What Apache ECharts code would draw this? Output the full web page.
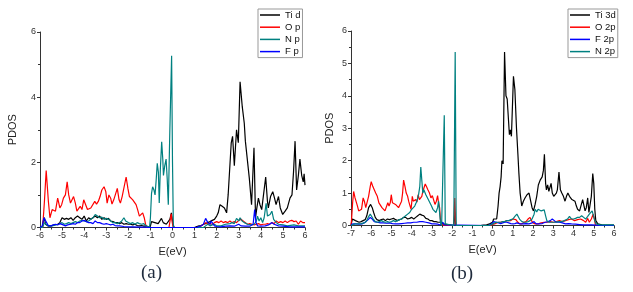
<!DOCTYPE html>
<html>
<head>
<meta charset="utf-8">
<script src="https://cdn.jsdelivr.net/npm/echarts@6/dist/echarts.min.js"></script>
<style>
  html, body { margin: 0; padding: 0; background: #fff; }
  #chart { width: 633px; height: 292px; }
</style>
</head>
<body>
<div id="chart"></div>
<script>
// panel (a): PDOS vs E(eV), [E, PDOS]
const tiD = [[-6,0],[-5.9,0],[-5.85,0.2],[-5.8,0.3],[-5.75,0.1],[-5.65,0.05],[-5.5,0.05],[-5.35,0.08],[-5.2,0.1],[-5.1,0.15],[-5.0,0.3],[-4.9,0.25],[-4.8,0.28],[-4.7,0.25],[-4.6,0.3],[-4.5,0.22],[-4.4,0.3],[-4.3,0.35],[-4.2,0.3],[-4.1,0.25],[-4.0,0.35],[-3.9,0.2],[-3.8,0.3],[-3.7,0.25],[-3.6,0.3],[-3.5,0.35],[-3.4,0.3],[-3.3,0.35],[-3.2,0.25],[-3.1,0.3],[-3.0,0.25],[-2.9,0.28],[-2.8,0.2],[-2.7,0.18],[-2.6,0.15],[-2.5,0.15],[-2.4,0.12],[-2.3,0.15],[-2.2,0.1],[-2.1,0.12],[-2.0,0.1],[-1.9,0.1],[-1.8,0.08],[-1.7,0.1],[-1.6,0.06],[-1.5,0.05],[-1.4,0.06],[-1.3,0.04],[-1.2,0.05],[-1.12,0],[-1.02,0],[-0.95,0.18],[-0.88,0.2],[-0.8,0.15],[-0.72,0.2],[-0.65,0.12],[-0.58,0.18],[-0.5,0.28],[-0.42,0.15],[-0.35,0.2],[-0.28,0.1],[-0.2,0.1],[-0.12,0.25],[-0.05,0.45],[0.02,0.1],[0.08,0],[1.0,0],[1.1,0.03],[1.2,0.05],[1.3,0.06],[1.4,0.1],[1.5,0.12],[1.6,0.15],[1.7,0.18],[1.8,0.22],[1.9,0.25],[2.0,0.35],[2.07,0.45],[2.15,0.7],[2.25,0.65],[2.35,0.6],[2.45,0.45],[2.52,1.0],[2.58,0.95],[2.66,2.6],[2.72,2.8],[2.8,1.9],[2.9,3.0],[2.98,2.6],[3.06,4.47],[3.16,3.7],[3.25,3.2],[3.3,2.65],[3.38,2.6],[3.48,1.5],[3.58,0.7],[3.69,2.45],[3.76,0.3],[3.82,0.6],[3.89,0.9],[3.96,0.7],[4.04,0.55],[4.12,0.6],[4.22,1.55],[4.3,0.8],[4.34,0.6],[4.44,0.95],[4.54,1.1],[4.62,0.9],[4.69,0.7],[4.8,0.95],[4.88,0.6],[4.99,0.4],[5.1,0.5],[5.2,0.6],[5.32,0.9],[5.41,1.0],[5.48,1.7],[5.55,2.65],[5.62,1.15],[5.7,1.6],[5.77,2.1],[5.85,1.6],[5.92,1.4],[5.96,1.65],[6,1.3]];
const oP = [[-6,0],[-5.88,0],[-5.8,0.8],[-5.72,1.75],[-5.62,0.8],[-5.55,0.3],[-5.45,0.55],[-5.38,0.6],[-5.3,0.5],[-5.2,0.9],[-5.1,0.6],[-5.02,0.7],[-4.94,0.9],[-4.85,1.0],[-4.77,1.4],[-4.7,1.0],[-4.62,0.75],[-4.55,0.8],[-4.48,0.95],[-4.4,0.75],[-4.33,0.5],[-4.25,0.55],[-4.18,0.65],[-4.1,0.55],[-4.02,0.85],[-3.95,0.8],[-3.85,0.55],[-3.77,0.5],[-3.7,0.6],[-3.62,0.65],[-3.52,0.8],[-3.44,0.72],[-3.36,0.8],[-3.28,0.95],[-3.2,1.15],[-3.1,1.25],[-3.02,1.1],[-2.96,0.75],[-2.88,1.0],[-2.8,0.9],[-2.74,0.72],[-2.66,0.85],[-2.58,0.9],[-2.5,1.2],[-2.42,0.85],[-2.36,0.75],[-2.28,0.95],[-2.2,1.0],[-2.1,1.55],[-2.02,1.2],[-1.95,0.95],[-1.88,1.0],[-1.8,0.85],[-1.72,0.9],[-1.65,0.7],[-1.58,0.55],[-1.5,0.35],[-1.42,0.3],[-1.35,0.45],[-1.28,0.3],[-1.22,0.1],[-1.16,0],[-0.16,0],[-0.1,0.25],[-0.06,0.42],[-0.01,0.15],[0.03,0],[1.2,0],[1.3,0.05],[1.4,0.1],[1.5,0.15],[1.6,0.1],[1.7,0.12],[1.8,0.1],[1.9,0.15],[2.0,0.18],[2.1,0.15],[2.2,0.2],[2.3,0.15],[2.4,0.18],[2.5,0.15],[2.6,0.2],[2.7,0.15],[2.8,0.18],[2.9,0.15],[3.0,0.22],[3.1,0.25],[3.2,0.2],[3.3,0.15],[3.4,0.1],[3.5,0.12],[3.6,0.1],[3.7,0.08],[3.8,0.1],[3.9,0.12],[4.0,0.08],[4.1,0.1],[4.2,0.1],[4.3,0.12],[4.4,0.1],[4.5,0.15],[4.6,0.12],[4.7,0.2],[4.8,0.15],[4.9,0.18],[5.0,0.15],[5.1,0.2],[5.2,0.15],[5.3,0.2],[5.4,0.22],[5.5,0.18],[5.6,0.2],[5.7,0.1],[5.8,0.2],[5.9,0.15],[6,0.15]];
const nP = [[-6,0],[-5.88,0],[-5.8,0.15],[-5.7,0.08],[-5.6,0.05],[-5.45,0.05],[-5.3,0.08],[-5.15,0.1],[-5.0,0.15],[-4.9,0.1],[-4.8,0.12],[-4.7,0.15],[-4.6,0.12],[-4.5,0.15],[-4.4,0.18],[-4.3,0.15],[-4.2,0.2],[-4.1,0.22],[-4.0,0.2],[-3.9,0.18],[-3.8,0.2],[-3.7,0.25],[-3.6,0.3],[-3.5,0.4],[-3.4,0.35],[-3.3,0.3],[-3.2,0.32],[-3.1,0.25],[-3.0,0.28],[-2.9,0.25],[-2.8,0.2],[-2.7,0.15],[-2.6,0.15],[-2.5,0.12],[-2.4,0.15],[-2.3,0.2],[-2.2,0.3],[-2.12,0.2],[-2.0,0.15],[-1.9,0.12],[-1.8,0.15],[-1.7,0.1],[-1.6,0.15],[-1.5,0.12],[-1.4,0.1],[-1.3,0.12],[-1.2,0.05],[-1.12,0],[-1.04,0],[-1.0,0.3],[-0.95,1.05],[-0.9,1.25],[-0.84,1.15],[-0.79,1.0],[-0.74,1.45],[-0.69,1.97],[-0.64,1.7],[-0.6,0.75],[-0.55,1.8],[-0.49,2.63],[-0.44,2.1],[-0.41,1.6],[-0.35,1.9],[-0.29,2.1],[-0.24,1.5],[-0.19,0.7],[-0.12,3.0],[-0.04,5.27],[0.0,2.0],[0.04,0],[1.4,0],[1.5,0.05],[1.6,0.1],[1.7,0.05],[1.8,0.08],[1.9,0.1],[2.0,0.05],[2.2,0.05],[2.4,0.1],[2.6,0.12],[2.7,0.15],[2.8,0.12],[2.9,0.28],[3.0,0.2],[3.06,0.3],[3.15,0.2],[3.25,0.15],[3.4,0.1],[3.6,0.08],[3.7,0.1],[3.8,0.2],[3.85,0.35],[3.92,0.2],[4.0,0.3],[4.08,0.15],[4.15,0.3],[4.24,0.74],[4.3,0.35],[4.36,0.3],[4.42,0.4],[4.5,0.5],[4.58,0.25],[4.7,0.15],[4.8,0.1],[5.0,0.08],[5.2,0.05],[5.5,0.08],[5.7,0.05],[6,0.05]];
const fP = [[-6,0],[-5.9,0.05],[-5.82,0.3],[-5.77,0.35],[-5.7,0.15],[-5.62,0.05],[-5.5,0.05],[-5.4,0.08],[-5.3,0.1],[-5.2,0.08],[-5.1,0.12],[-5.02,0.15],[-4.95,0.08],[-4.85,0.05],[-4.75,0.08],[-4.6,0.1],[-4.5,0.12],[-4.4,0.1],[-4.3,0.15],[-4.2,0.15],[-4.1,0.2],[-4.0,0.22],[-3.9,0.18],[-3.8,0.15],[-3.7,0.15],[-3.6,0.12],[-3.5,0.2],[-3.4,0.15],[-3.3,0.15],[-3.2,0.12],[-3.1,0.1],[-3.0,0.12],[-2.9,0.1],[-2.8,0.08],[-2.7,0.1],[-2.6,0.06],[-2.5,0.05],[-2.4,0.05],[-2.2,0.03],[-2.0,0.02],[-1.8,0.02],[-1.5,0.01],[-1.2,0.01],[-1.1,0],[1.1,0],[1.2,0.03],[1.3,0.05],[1.4,0.1],[1.5,0.28],[1.55,0.3],[1.6,0.15],[1.7,0.1],[1.75,0.2],[1.82,0.15],[1.9,0.05],[2.0,0.03],[2.2,0.02],[2.4,0.04],[2.6,0.05],[2.8,0.04],[3.0,0.1],[3.1,0.05],[3.3,0.04],[3.5,0.04],[3.65,0.1],[3.72,0.55],[3.78,0.15],[3.85,0.05],[4.0,0.04],[4.2,0.05],[4.35,0.08],[4.5,0.15],[4.6,0.1],[4.8,0.05],[5.0,0.04],[5.3,0.02],[5.6,0.02],[6,0.02]];

// panel (b)
const ti3d = [[-7,0],[-6.97,0.1],[-6.93,0.2],[-6.87,0.15],[-6.78,0.15],[-6.7,0.12],[-6.6,0.1],[-6.5,0.12],[-6.4,0.15],[-6.3,0.18],[-6.22,0.3],[-6.13,0.55],[-6.03,0.65],[-5.95,0.55],[-5.88,0.4],[-5.8,0.25],[-5.72,0.18],[-5.6,0.15],[-5.5,0.18],[-5.4,0.2],[-5.3,0.15],[-5.2,0.2],[-5.1,0.18],[-5.0,0.2],[-4.9,0.22],[-4.8,0.18],[-4.7,0.15],[-4.6,0.18],[-4.5,0.2],[-4.4,0.25],[-4.3,0.25],[-4.2,0.2],[-4.1,0.22],[-4.0,0.25],[-3.9,0.2],[-3.8,0.25],[-3.7,0.3],[-3.6,0.35],[-3.5,0.32],[-3.4,0.3],[-3.3,0.22],[-3.2,0.2],[-3.1,0.15],[-3.0,0.15],[-2.9,0.12],[-2.8,0.12],[-2.7,0.1],[-2.6,0.1],[-2.52,0.05],[-2.45,0.05],[-2.38,0],[-1.92,0],[-1.87,0.4],[-1.82,0],[-0.6,0],[-0.45,0.01],[-0.3,0.02],[-0.15,0.05],[0.0,0.1],[0.05,0.2],[0.12,0.25],[0.2,0.2],[0.27,0.6],[0.32,1.0],[0.37,1.2],[0.42,1.5],[0.46,2.0],[0.52,1.9],[0.59,5.35],[0.66,4.0],[0.72,3.9],[0.77,3.85],[0.83,2.8],[0.88,2.95],[0.93,2.75],[1.03,4.6],[1.1,4.2],[1.18,3.0],[1.25,2.2],[1.3,1.6],[1.36,1.0],[1.44,0.6],[1.52,0.75],[1.6,0.85],[1.7,0.95],[1.8,1.0],[1.88,0.95],[1.95,0.55],[2.02,0.45],[2.1,0.65],[2.18,0.9],[2.26,1.25],[2.35,1.4],[2.45,1.5],[2.51,1.7],[2.56,2.2],[2.62,1.3],[2.66,1.1],[2.72,1.25],[2.78,1.05],[2.84,1.1],[2.89,1.3],[2.95,1.0],[3.02,0.9],[3.09,0.85],[3.15,1.0],[3.2,1.1],[3.28,1.65],[3.35,1.1],[3.42,1.0],[3.5,0.9],[3.58,0.75],[3.65,0.9],[3.72,1.0],[3.8,0.9],[3.86,0.95],[3.92,0.8],[4.0,0.8],[4.07,0.75],[4.14,0.6],[4.2,0.5],[4.3,0.45],[4.38,0.5],[4.45,0.8],[4.5,0.75],[4.57,0.45],[4.63,0.55],[4.7,0.85],[4.76,0.4],[4.82,0.65],[4.88,0.9],[4.95,1.6],[5.0,1.3],[5.05,0.5],[5.1,0.15],[5.2,0.05],[5.4,0.02],[5.7,0.01],[6,0.01]];
const o2p = [[-7,0],[-6.97,0.2],[-6.92,0.7],[-6.87,1.05],[-6.8,0.85],[-6.74,0.8],[-6.68,0.6],[-6.62,0.45],[-6.55,0.4],[-6.48,0.5],[-6.4,0.85],[-6.34,0.75],[-6.27,0.55],[-6.2,0.6],[-6.13,0.9],[-6.05,1.2],[-6.0,1.35],[-5.92,1.2],[-5.85,1.1],[-5.78,1.0],[-5.7,0.9],[-5.62,0.7],[-5.55,0.65],[-5.47,0.55],[-5.4,0.5],[-5.32,0.45],[-5.25,0.5],[-5.18,0.7],[-5.12,0.6],[-5.06,0.7],[-5.01,0.95],[-4.95,0.7],[-4.88,0.72],[-4.8,0.65],[-4.72,0.6],[-4.65,0.55],[-4.58,0.6],[-4.5,0.75],[-4.45,1.0],[-4.4,1.4],[-4.33,1.2],[-4.27,1.0],[-4.2,0.9],[-4.15,0.75],[-4.08,0.6],[-4.03,0.5],[-3.97,0.9],[-3.92,0.75],[-3.87,0.7],[-3.8,0.8],[-3.74,0.72],[-3.68,0.95],[-3.62,0.8],[-3.56,0.85],[-3.5,0.9],[-3.45,1.05],[-3.4,1.15],[-3.33,1.28],[-3.27,1.2],[-3.2,1.1],[-3.12,1.0],[-3.05,0.85],[-2.98,0.92],[-2.92,0.8],[-2.85,0.65],[-2.78,0.75],[-2.72,0.92],[-2.67,0.7],[-2.62,0.55],[-2.58,0.2],[-2.52,0.05],[-2.46,0.08],[-2.4,0],[-1.92,0],[-1.87,0.85],[-1.82,0],[-0.1,0],[0.0,0.03],[0.1,0.05],[0.2,0.08],[0.3,0.1],[0.4,0.1],[0.5,0.12],[0.6,0.12],[0.7,0.15],[0.8,0.15],[0.9,0.15],[1.0,0.2],[1.08,0.25],[1.15,0.18],[1.25,0.1],[1.35,0.05],[1.45,0.05],[1.55,0.1],[1.65,0.12],[1.75,0.2],[1.85,0.25],[1.92,0.15],[2.0,0.08],[2.1,0.05],[2.25,0.05],[2.4,0.08],[2.55,0.1],[2.7,0.1],[2.85,0.12],[3.0,0.1],[3.15,0.12],[3.3,0.15],[3.45,0.12],[3.6,0.15],[3.75,0.18],[3.9,0.2],[4.05,0.15],[4.2,0.18],[4.35,0.2],[4.5,0.15],[4.6,0.1],[4.7,0.22],[4.78,0.1],[4.88,0.2],[4.97,0.35],[5.03,0.2],[5.08,0.02],[5.2,0],[6,0]];
const f2p = [[-7,0.02],[-6.9,0.05],[-6.75,0.05],[-6.6,0.04],[-6.45,0.05],[-6.3,0.1],[-6.15,0.18],[-6.05,0.25],[-5.95,0.2],[-5.85,0.12],[-5.7,0.1],[-5.55,0.08],[-5.4,0.08],[-5.25,0.07],[-5.1,0.08],[-4.95,0.06],[-4.8,0.05],[-4.65,0.05],[-4.5,0.06],[-4.35,0.07],[-4.2,0.08],[-4.05,0.08],[-3.9,0.1],[-3.75,0.1],[-3.6,0.12],[-3.52,0.15],[-3.45,0.12],[-3.3,0.1],[-3.15,0.08],[-3.0,0.05],[-2.85,0.05],[-2.7,0.04],[-2.6,0.02],[-2.52,0.05],[-2.46,0.1],[-2.4,0.02],[-2.35,0],[-0.2,0],[-0.05,0.05],[0.05,0.12],[0.12,0.15],[0.2,0.1],[0.3,0.08],[0.4,0.06],[0.5,0.08],[0.6,0.1],[0.7,0.1],[0.8,0.08],[0.9,0.06],[1.0,0.05],[1.1,0.06],[1.2,0.08],[1.35,0.05],[1.5,0.05],[1.65,0.06],[1.8,0.05],[1.95,0.08],[2.05,0.12],[2.15,0.05],[2.3,0.05],[2.45,0.06],[2.6,0.1],[2.75,0.12],[2.85,0.15],[2.95,0.2],[3.05,0.15],[3.15,0.1],[3.3,0.1],[3.45,0.08],[3.6,0.05],[3.75,0.06],[3.9,0.05],[4.1,0.04],[4.3,0.03],[4.5,0.02],[4.7,0.02],[4.9,0.02],[5.1,0.01],[5.3,0],[6,0]];
const n2p = [[-7,0],[-6.95,0.05],[-6.8,0.05],[-6.65,0.05],[-6.5,0.06],[-6.35,0.08],[-6.25,0.12],[-6.15,0.25],[-6.05,0.35],[-5.98,0.3],[-5.9,0.2],[-5.8,0.12],[-5.7,0.1],[-5.6,0.12],[-5.5,0.15],[-5.4,0.12],[-5.3,0.1],[-5.2,0.12],[-5.1,0.1],[-5.0,0.12],[-4.9,0.15],[-4.8,0.12],[-4.7,0.15],[-4.6,0.18],[-4.5,0.2],[-4.4,0.25],[-4.3,0.3],[-4.2,0.35],[-4.1,0.4],[-4.0,0.5],[-3.92,0.55],[-3.85,0.6],[-3.78,0.7],[-3.72,0.8],[-3.66,0.95],[-3.6,1.2],[-3.55,1.8],[-3.5,1.4],[-3.45,1.0],[-3.4,1.1],[-3.35,1.15],[-3.3,0.95],[-3.25,0.9],[-3.18,0.8],[-3.1,0.75],[-3.02,0.6],[-2.95,0.5],[-2.88,0.45],[-2.8,0.4],[-2.72,0.55],[-2.67,0.75],[-2.62,0.7],[-2.58,0.1],[-2.52,0],[-2.45,0.05],[-2.39,3.4],[-2.34,0.05],[-2.3,0],[-1.92,0],[-1.85,5.35],[-1.8,0],[-0.2,0],[-0.1,0.02],[0.0,0.05],[0.1,0.08],[0.2,0.1],[0.3,0.1],[0.4,0.1],[0.5,0.12],[0.6,0.12],[0.7,0.15],[0.8,0.15],[0.9,0.18],[1.0,0.2],[1.1,0.28],[1.2,0.35],[1.28,0.3],[1.35,0.18],[1.45,0.12],[1.55,0.1],[1.65,0.1],[1.75,0.12],[1.85,0.15],[1.95,0.2],[2.05,0.35],[2.1,0.5],[2.18,0.42],[2.25,0.5],[2.32,0.52],[2.4,0.45],[2.48,0.4],[2.55,0.48],[2.62,0.3],[2.68,0.15],[2.8,0.1],[2.95,0.1],[3.1,0.1],[3.25,0.12],[3.4,0.12],[3.55,0.15],[3.7,0.2],[3.8,0.28],[3.9,0.2],[4.0,0.2],[4.1,0.22],[4.2,0.25],[4.3,0.25],[4.4,0.3],[4.5,0.25],[4.6,0.2],[4.7,0.28],[4.78,0.35],[4.85,0.3],[4.92,0.45],[4.98,0.4],[5.05,0.15],[5.12,0.05],[5.3,0.02],[6,0.02]];

const FONT = "Liberation Sans, Arial, sans-serif";
const AXIS_COLOR = "#333";

const chart = echarts.init(document.getElementById("chart"), null, { renderer: "canvas" });

function xAxisCfg(gridIndex, min) {
  return {
    type: "value", gridIndex, min, max: 6, interval: 1,
    name: "E(eV)", nameLocation: "middle", nameGap: 19,
    nameTextStyle: { fontSize: 11, color: "#222", fontFamily: FONT },
    axisLine: { onZero: false, lineStyle: { color: AXIS_COLOR, width: 1 } },
    axisTick: { length: 3, lineStyle: { color: AXIS_COLOR } },
    minorTick: { show: true, splitNumber: 2, length: 2, lineStyle: { color: AXIS_COLOR } },
    axisLabel: { fontSize: 9, color: "#333", margin: 4, fontFamily: FONT },
    splitLine: { show: false },
  };
}

function yAxisCfg(gridIndex, interval, nameGap) {
  return {
    type: "value", gridIndex, min: 0, max: 6, interval,
    name: "PDOS", nameLocation: "middle", nameGap,
    nameTextStyle: { fontSize: 11, color: "#222", fontFamily: FONT },
    axisLine: { show: true, onZero: false, lineStyle: { color: AXIS_COLOR, width: 1 } },
    axisTick: { show: true, length: 3, lineStyle: { color: AXIS_COLOR } },
    minorTick: { show: true, splitNumber: 2, length: 2, lineStyle: { color: AXIS_COLOR } },
    axisLabel: { fontSize: 9, color: "#333", margin: 4, fontFamily: FONT },
    splitLine: { show: false },
  };
}

function line(name, data, color, idx) {
  return {
    type: "line", name, data, xAxisIndex: idx, yAxisIndex: idx,
    symbol: "none", showSymbol: false, animation: false,
    lineStyle: { color, width: 1.2 }, itemStyle: { color },
  };
}

function legendCfg(left, names) {
  return {
    left, top: 9, orient: "vertical",
    data: names,
    icon: "rect",
    itemWidth: 20, itemHeight: 1.5, itemGap: 2.2,
    padding: [1, 2, 1, 2],
    borderColor: "#999", borderWidth: 1, backgroundColor: "#fff",
    textStyle: { fontSize: 9.5, lineHeight: 10, color: "#111", fontFamily: FONT },
  };
}

chart.setOption({
  animation: false,
  backgroundColor: "#fff",
  grid: [
    { left: 40, top: 32, width: 265, height: 195.5 },
    { left: 351, top: 31, width: 263, height: 194.5 },
  ],
  xAxis: [xAxisCfg(0, -6), xAxisCfg(1, -7)],
  yAxis: [yAxisCfg(0, 2, 22), yAxisCfg(1, 1, 16)],
  legend: [
    legendCfg(258, ["Ti d", "O p", "N p", "F p"]),
    legendCfg(568, ["Ti 3d", "O 2p", "F 2p", "N 2p"]),
  ],
  series: [
    line("Ti d", tiD, "#000000", 0),
    line("O p", oP, "#ff0000", 0),
    line("N p", nP, "#008080", 0),
    line("F p", fP, "#0000ff", 0),
    line("Ti 3d", ti3d, "#000000", 1),
    line("O 2p", o2p, "#ff0000", 1),
    line("F 2p", f2p, "#0000ff", 1),
    line("N 2p", n2p, "#008080", 1),
  ],
  graphic: [
    { type: "text", left: 141, top: 264, style: { text: "(a)", fontSize: 19, fontFamily: "Liberation Serif, DejaVu Serif, serif", fill: "#1e2a3c" } },
    { type: "text", left: 451, top: 265, style: { text: "(b)", fontSize: 19, fontFamily: "Liberation Serif, DejaVu Serif, serif", fill: "#1e2a3c" } },
  ],
});
</script>
</body>
</html>
